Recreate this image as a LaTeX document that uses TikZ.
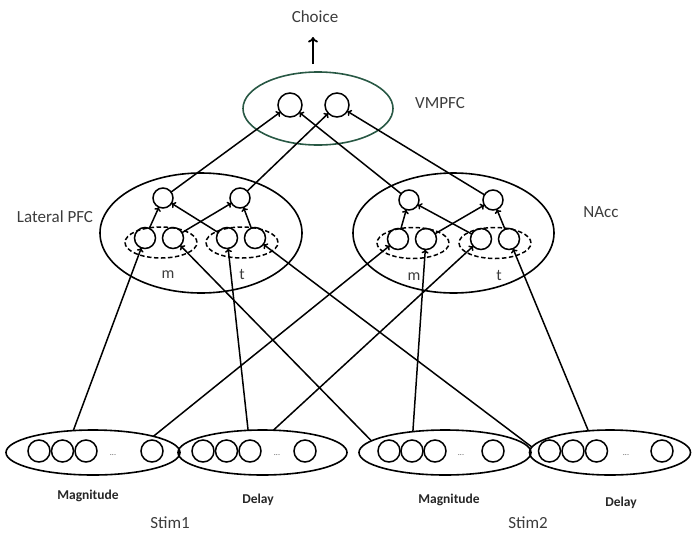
\documentclass[tikz,border=0pt]{standalone}
\usepackage{fontspec}
\setmainfont{Carlito}
\usetikzlibrary{shapes.geometric,arrows.meta}
\definecolor{vmcol}{RGB}{40,88,68}
\definecolor{txtcol}{RGB}{60,60,60}
\begin{document}
\begin{tikzpicture}[x=1pt,y=-1pt,
  neuron/.style={circle,draw,line width=1.5pt,minimum size=20pt,inner sep=0pt,outer sep=0pt},
  bneuron/.style={neuron,minimum size=21pt},
  sneuron/.style={neuron,minimum size=22pt},
  vneuron/.style={neuron,minimum size=24pt},
  region/.style={ellipse,draw,line width=1.6pt,inner sep=0pt,outer sep=0pt},
  grp/.style={ellipse,draw,line width=1.5pt,dash pattern=on 4.5pt off 2.5pt,inner sep=0pt,outer sep=0pt,minimum width=72pt,minimum height=31pt},
  stim/.style={region,minimum height=45pt},
  conn/.style={line width=1.5pt,-{To[length=4pt,width=7pt]}},
  bigarrow/.style={line width=1.8pt,-{To[length=5.5pt,width=10pt]}},
  lbl/.style={font=\fontsize{17}{20}\selectfont,text=txtcol,anchor=base,inner sep=0pt},
  sublbl/.style={font=\fontsize{16}{19}\selectfont,text=txtcol,anchor=base,inner sep=0pt},
  boldlbl/.style={font=\fontsize{13.5}{16}\selectfont\bfseries,text=black!85,anchor=base,inner sep=0pt},
  dotslbl/.style={font=\fontsize{8}{9}\selectfont,text=black!70,anchor=base,inner sep=0pt}]
\useasboundingbox (0,0) rectangle (692,533);

% regions
\node[region,draw=vmcol,minimum width=150pt,minimum height=73pt] (vm) at (318,108.5) {};
\node[region,minimum width=202pt,minimum height=120pt] (lp) at (201,233) {};
\node[region,minimum width=201pt,minimum height=120pt] (na) at (453.5,233) {};

% VMPFC neurons
\node[vneuron] (vl) at (290,105) {};
\node[vneuron] (vr) at (337,105) {};

% Lateral PFC
\node[neuron] (lt1) at (163,198) {};
\node[neuron] (lt2) at (240,198) {};
\node[bneuron] (lb1) at (145,238) {};
\node[bneuron] (lb2) at (173,238) {};
\node[bneuron] (lb3) at (227,238) {};
\node[bneuron] (lb4) at (255,238) {};
\node[grp] (lg1) at (161,242.5) {};
\node[grp] (lg2) at (242,242.5) {};

% NAcc
\node[neuron] (nt1) at (409,200) {};
\node[neuron] (nt2) at (493,200) {};
\node[bneuron] (nb1) at (398,239) {};
\node[bneuron] (nb2) at (426,239) {};
\node[bneuron] (nb3) at (481,239) {};
\node[bneuron] (nb4) at (509,239) {};
\node[grp] (ng1) at (413,243) {};
\node[grp] (ng2) at (495,243) {};

% stimulus populations
\node[stim,minimum width=174pt] (mag1) at (93,452.5) {};
\node[stim,minimum width=169pt] (del1) at (262.5,452.5) {};
\node[stim,minimum width=172pt] (mag2) at (445,452.5) {};
\node[stim,minimum width=161pt] (del2) at (610,452.5) {};

\node[sneuron] (m1a) at (39,451) {};
\node[sneuron] (m1b) at (62.5,451) {};
\node[sneuron] (m1c) at (86,451) {};
\node[dotslbl] (m1d) at (113,455) {...};
\node[sneuron] (m1e) at (152,451) {};

\node[sneuron] (d1a) at (203,451) {};
\node[sneuron] (d1b) at (226.5,451) {};
\node[sneuron] (d1c) at (250,451) {};
\node[dotslbl] (d1d) at (277,455) {...};
\node[sneuron] (d1e) at (305,451) {};

\node[sneuron] (m2a) at (389,451) {};
\node[sneuron] (m2b) at (412,451) {};
\node[sneuron] (m2c) at (435,451) {};
\node[dotslbl] (m2d) at (461,455) {...};
\node[sneuron] (m2e) at (493,451) {};

\node[sneuron] (d2a) at (549.5,451) {};
\node[sneuron] (d2b) at (573,451) {};
\node[sneuron] (d2c) at (596.5,451) {};
\node[dotslbl] (d2d) at (626,455) {...};
\node[sneuron] (d2e) at (662,451) {};

% labels
\node[lbl] (choice) at (315,22) {Choice};
\node[lbl] (vmlbl) at (440,108) {VMPFC};
\node[lbl] (lplbl) at (55,222) {Lateral PFC};
\node[lbl] (nalbl) at (601,217) {NAcc};
\node[sublbl] (lm) at (168,278) {m};
\node[sublbl] (ltt) at (242,279) {t};
\node[sublbl] (nm) at (414,280) {m};
\node[sublbl] (ntt) at (499,280) {t};
\node[boldlbl] (mag1l) at (88,499) {Magnitude};
\node[boldlbl] (del1l) at (258,503) {Delay};
\node[boldlbl] (mag2l) at (449,503) {Magnitude};
\node[boldlbl] (del2l) at (621,506) {Delay};
\node[lbl] (s1) at (170,528) {Stim1};
\node[lbl] (s2) at (528,528) {Stim2};

% choice arrow
\coordinate (chs) at (313,64);
\coordinate (che) at (313,37);
\draw[bigarrow] (chs) -- (che);

% inner connections
\draw[conn] (lb1) -- (lt1);
\draw[conn] (lb2) -- (lt2);
\draw[conn] (lb3) -- (lt1);
\draw[conn] (lb4) -- (lt2);
\draw[conn] (nb1) -- (nt1);
\draw[conn] (nb2) -- (nt2);
\draw[conn] (nb3) -- (nt1);
\draw[conn] (nb4) -- (nt2);

% to VMPFC
\draw[conn] (lt1) -- (vl);
\draw[conn] (lt2) -- (vr);
\draw[conn] (nt1) -- (vl);
\draw[conn] (nt2) -- (vr);

% from stimuli
\draw[conn] (mag1.132.9) -- (lb1);
\draw[conn] (mag1.15.4) -- (nb1);
\draw[conn] (del1.123.1) -- (lb3);
\draw[conn] (del1.64.8) -- (nb3);
\draw[conn] (mag2.147.8) -- (nb2);
\draw[conn] (mag2.171.2) -- (lb2);
\draw[conn] (del2.135.5) -- (nb4);
\draw[conn] (del2.176.4) -- (lb4);
\end{tikzpicture}
\end{document}
